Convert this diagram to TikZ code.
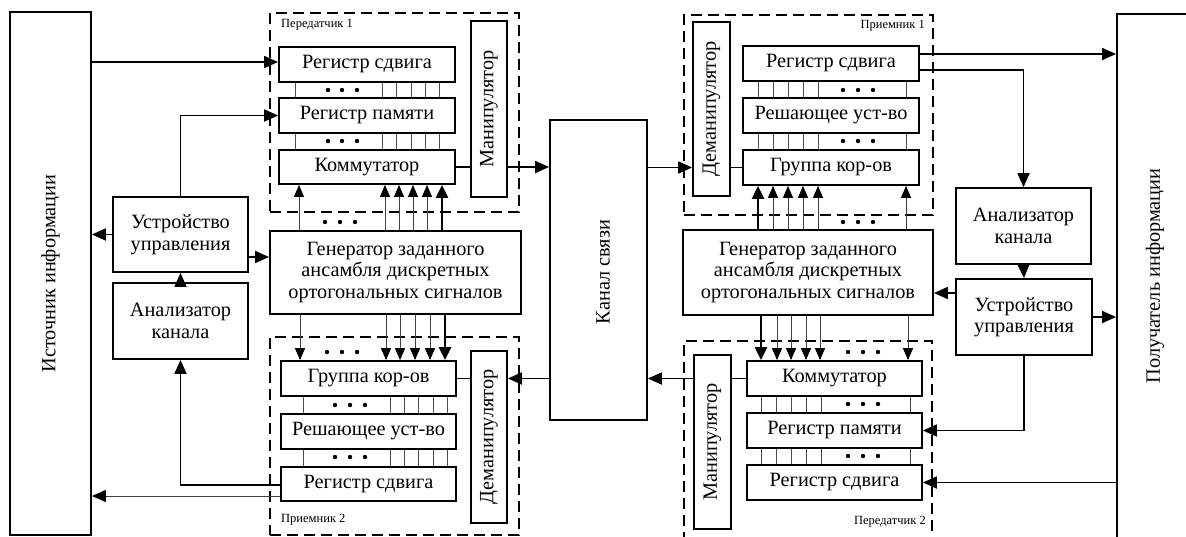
\documentclass[tikz,border=0pt]{standalone}
\usepackage{fontspec}
\setmainfont{Liberation Serif}
\usetikzlibrary{arrows.meta}
\tikzset{
  blk/.style={draw, line width=1.8pt, inner sep=0pt, align=center, font=\fontsize{20.3}{21.5}\selectfont},
  rtxt/.style={rotate=90, inner sep=0pt, font=\fontsize{20.3}{21.5}\selectfont},
  frame/.style={draw, line width=1.7pt, dash pattern=on 11pt off 6pt, inner sep=0pt},
  lbl/.style={inner sep=0pt, font=\fontsize{12.5}{14}\selectfont},
  ln/.style={line width=1.8pt},
  arr/.style={line width=1.8pt, -{Triangle[length=14pt,width=12pt]}},
  thinarr/.style={line width=1pt, draw=black!75, -{Triangle[length=14pt,width=12pt,fill=black,color=black]}},
  bus/.style={line width=1pt, draw=black!70},
  busarr/.style={line width=1pt, draw=black!75, -{Triangle[length=12pt,width=10pt,fill=black,color=black]}},
  busthick/.style={line width=2.2pt, -{Triangle[length=13pt,width=12pt]}},
  dotfill/.style={fill=black}
}
\begin{document}
\begin{tikzpicture}[x=1pt,y=-1pt]
\useasboundingbox (0,0) rectangle (1186,536);
% side blocks
\node[blk, minimum width=81pt, minimum height=523pt] (src) at (50.5,273.5) {};
\node[rtxt] (srct) at (src.center) {Источник информации};
\node[blk, minimum width=76pt, minimum height=524pt] (dst) at (1155,276) {};
\node[rtxt] (dstt) at (dst.center) {Получатель информации};
% frames
\node[frame, minimum width=249pt, minimum height=199pt] (tx1) at (394.5,112.5) {};
\node[frame, minimum width=249pt, minimum height=198pt] (rx2) at (394.5,436) {};
\node[frame, minimum width=249pt, minimum height=200pt] (rx1) at (808.5,115) {};
\node[frame, minimum width=248pt, minimum height=197pt] (tx2) at (808,439.5) {};
\node[lbl, anchor=west] (tx1l) at (281,25) {Передатчик 1};
\node[lbl, anchor=west] (rx2l) at (281,520) {Приемник 2};
\node[lbl, anchor=east] (rx1l) at (925,26) {Приемник 1};
\node[lbl, anchor=east] (tx2l) at (926,522) {Передатчик 2};
% transmitter 1
\node[blk, minimum width=176pt, minimum height=35pt] (tx1rs) at (367,64.5) {Регистр сдвига};
\node[blk, minimum width=176pt, minimum height=35pt] (tx1rp) at (367,115.5) {Регистр памяти};
\node[blk, minimum width=176pt, minimum height=34pt] (tx1km) at (367,167) {Коммутатор};
\node[blk, minimum height=36pt, minimum width=176pt, rotate=90] (tx1mn) at (489,109) {Манипулятор};
% receiver 2
\node[blk, minimum width=175pt, minimum height=35pt] (rx2gr) at (368.5,378.5) {Группа кор-ов};
\node[blk, minimum width=175pt, minimum height=35pt] (rx2rd) at (368.5,431.5) {Решающее уст-во};
\node[blk, minimum width=175pt, minimum height=34pt] (rx2rs) at (368.5,484) {Регистр сдвига};
\node[blk, minimum height=36pt, minimum width=172pt, rotate=90] (rx2dm) at (489,437) {Деманипулятор};
% generators
\node[blk, minimum width=251pt, minimum height=83pt] (gen1) at (395.5,272.5) {Генератор заданного\\ансамбля дискретных\\ортогональных сигналов};
\node[blk, minimum width=250pt, minimum height=85pt] (gen2) at (808,272.5) {Генератор заданного\\ансамбля дискретных\\ортогональных сигналов};
% channel
\node[blk, minimum width=97pt, minimum height=300pt] (chan) at (598.5,270) {};
\node[rtxt] (chant) at (603,272) {Канал связи};
% receiver 1
\node[blk, minimum height=37pt, minimum width=174pt, rotate=90] (rx1dm) at (711.5,109) {Деманипулятор};
\node[blk, minimum width=176pt, minimum height=35pt] (rx1rs) at (831,63.5) {Регистр сдвига};
\node[blk, minimum width=176pt, minimum height=35pt] (rx1rd) at (831,115.5) {Решающее уст-во};
\node[blk, minimum width=176pt, minimum height=35pt] (rx1gr) at (831,167.5) {Группа кор-ов};
% transmitter 2
\node[blk, minimum height=37pt, minimum width=174pt, rotate=90] (tx2mn) at (712.5,442) {Манипулятор};
\node[blk, minimum width=175pt, minimum height=35pt] (tx2km) at (834.5,378.5) {Коммутатор};
\node[blk, minimum width=175pt, minimum height=35pt] (tx2rp) at (834.5,430.5) {Регистр памяти};
\node[blk, minimum width=175pt, minimum height=35pt] (tx2rs) at (834.5,482.5) {Регистр сдвига};
% analyzers and control units
\node[blk, minimum width=135pt, minimum height=76pt] (anR) at (1023.5,226) {Анализатор\\канала};
\node[blk, minimum width=136pt, minimum height=76pt] (uuR) at (1024,317) {Устройство\\управления};
\node[blk, minimum width=135pt, minimum height=76pt] (anL) at (180.5,321) {Анализатор\\канала};
\node[blk, minimum width=135pt, minimum height=75pt] (uuL) at (180.5,234.5) {Устройство\\управления};

% buses inside blocks
\foreach \x in {295,382,396,411,425,439} {
  \draw[bus] (tx1rs.south -| \x,0) -- (tx1rp.north -| \x,0);
  \draw[bus] (tx1rp.south -| \x,0) -- (tx1km.north -| \x,0);
}
\foreach \x in {303,390,404,418,433,447} {
  \draw[bus] (rx2gr.south -| \x,0) -- (rx2rd.north -| \x,0);
  \draw[bus] (rx2rd.south -| \x,0) -- (rx2rs.north -| \x,0);
}
\foreach \x in {758,773,788,803,818,906} {
  \draw[bus] (rx1rs.south -| \x,0) -- (rx1rd.north -| \x,0);
  \draw[bus] (rx1rd.south -| \x,0) -- (rx1gr.north -| \x,0);
}
\foreach \x in {761,776,791,806,821,910} {
  \draw[bus] (tx2km.south -| \x,0) -- (tx2rp.north -| \x,0);
  \draw[bus] (tx2rp.south -| \x,0) -- (tx2rs.north -| \x,0);
}
% generator bus arrows
\foreach \x in {299,385,399,413,427} \draw[busarr] (gen1.north -| \x,0) -- (tx1km.south -| \x,0);
\draw[busthick] (gen1.north -| 442,0) -- (tx1km.south -| 442,0);
\foreach \x in {300,386,400,415,430} \draw[busarr] (gen1.south -| \x,0) -- (rx2gr.north -| \x,0);
\draw[busthick] (gen1.south -| 445,0) -- (rx2gr.north -| 445,0);
\foreach \x in {773,788,803,818,906} \draw[busarr] (gen2.north -| \x,0) -- (rx1gr.south -| \x,0);
\draw[busthick] (gen2.north -| 758,0) -- (rx1gr.south -| 758,0);
\foreach \x in {777,791,806,820,908} \draw[busarr] (gen2.south -| \x,0) -- (tx2km.north -| \x,0);
\draw[busthick] (gen2.south -| 761,0) -- (tx2km.north -| 761,0);
% dots
\foreach \y in {90,141} \foreach \x in {328,342,357} \fill[dotfill] (\x,\y) circle[radius=2.2pt];
\foreach \x in {325,340,355} \fill[dotfill] (\x,222) circle[radius=2.2pt];
\foreach \x in {327,342,357} \fill[dotfill] (\x,352) circle[radius=2.2pt];
\foreach \y in {405,457} \foreach \x in {335,350,365} \fill[dotfill] (\x,\y) circle[radius=2.2pt];
\foreach \y in {90,141,222} \foreach \x in {843,858,873} \fill[dotfill] (\x,\y) circle[radius=2.2pt];
\foreach \y in {352,404,456} \foreach \x in {848,863,878} \fill[dotfill] (\x,\y) circle[radius=2.2pt];

% connectors, left side
\draw[arr] (src.east |- 0,62) -- (tx1rs.west |- 0,62);
\draw[arr] (uuL.north) |- (tx1rp.west);
\draw[arr] (uuL.west) -- (uuL.west -| src.east);
\draw[arr] (uuL.east |- 0,257) -- (gen1.west |- 0,257);
\draw[arr] (anL.north) -- (uuL.south);
\draw[arr] (rx2rs.west |- 0,485) -| (anL.south);
\draw[thinarr] (rx2rs.west |- 0,496) -- (src.east |- 0,496);
% channel links (rotated nodes: north = left side, south = right side)
\draw[ln] (tx1km.east) -- (tx1km.east -| tx1mn.north);
\draw[arr] (tx1mn.south |- tx1km.east) -- (chan.west |- tx1km.east);
\draw[arr] (chan.east |- rx1gr.west) -- (rx1dm.north |- rx1gr.west);
\draw[ln] (rx1dm.south |- rx1gr.west) -- (rx1gr.west);
\draw[arr] (chan.west |- rx2gr.east) -- (rx2dm.south |- rx2gr.east);
\draw[ln] (rx2gr.east) -- (rx2dm.north |- rx2gr.east);
\draw[arr] (tx2mn.north |- tx2km.west) -- (chan.east |- tx2km.west);
\draw[ln] (tx2km.west) -- (tx2mn.south |- tx2km.west);
% right side
\draw[arr] (rx1rs.east |- 0,54) -- (dst.west |- 0,54);
\draw[arr] (rx1rs.east |- 0,70) -| (anR.north);
\draw[arr] (anR.south) -- (uuR.north);
\draw[arr] (uuR.west |- 0,293) -- (gen2.east |- 0,293);
\draw[arr] (uuR.east) -- (uuR.east -| dst.west);
\draw[arr] (uuR.south) |- (tx2rp.east);
\draw[arr] (dst.west |- tx2rs.east) -- (tx2rs.east);
\end{tikzpicture}
\end{document}
